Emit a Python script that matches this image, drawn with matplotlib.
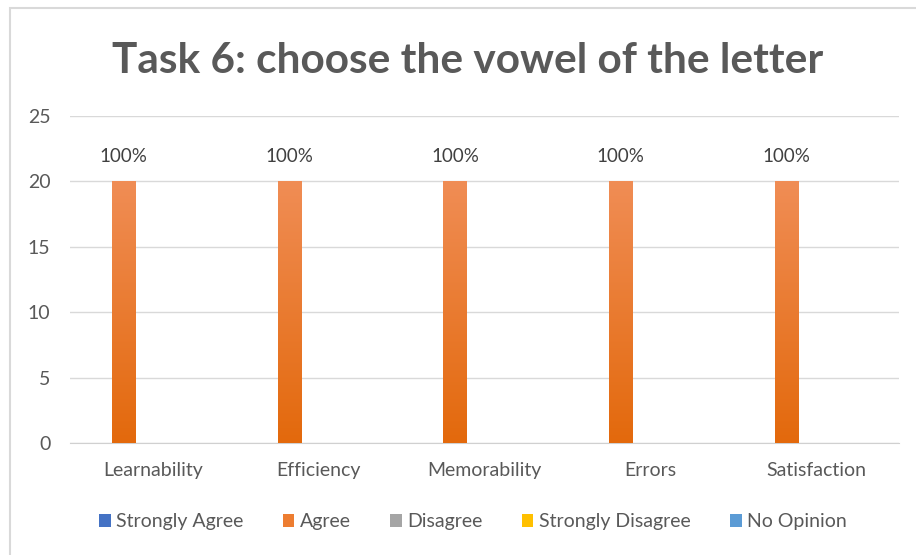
import numpy as np
import matplotlib
matplotlib.use('Agg')
import matplotlib.pyplot as plt
from matplotlib.patches import Rectangle
from matplotlib.colors import LinearSegmentedColormap

# data
categories = ['Learnability', 'Efficiency', 'Memorability', 'Errors', 'Satisfaction']
series = ['Strongly Agree', 'Agree', 'Disagree', 'Strongly Disagree', 'No Opinion']
values = {
    'Strongly Agree':    [0, 0, 0, 0, 0],
    'Agree':             [20, 20, 20, 20, 20],
    'Disagree':          [0, 0, 0, 0, 0],
    'Strongly Disagree': [0, 0, 0, 0, 0],
    'No Opinion':        [0, 0, 0, 0, 0],
}
bar_labels = {'Agree': ['100%', '100%', '100%', '100%', '100%']}
colors = ['#4472C4', '#ED7D31', '#A5A5A5', '#FFC000', '#5B9BD5']

plt.rcParams['font.family'] = ['Lato', 'DejaVu Sans']
text_gray = '#595959'

fig = plt.figure(figsize=(9.16, 5.55), dpi=100)
ax = fig.add_axes([70/916, 1-443/555, 829/916, (443-116)/555])

x = np.arange(len(categories))
step = 0.178
width = 0.139
offsets = (np.arange(len(series)) - 2) * step

for i, name in enumerate(series):
    bars = ax.bar(x + offsets[i], values[name], width, color=colors[i], label=name, zorder=3)
    # excel-like vertical gradient on the bars
    base = colors[i]
    cmap = LinearSegmentedColormap.from_list('g', ['#E3690C', '#F08D55'] if name == 'Agree' else [base, base])
    for b in bars:
        h = b.get_height()
        if h <= 0:
            continue
        grad = np.linspace(0, 1, 256).reshape(-1, 1)
        im = ax.imshow(grad, cmap=cmap, aspect='auto', origin='lower',
                       extent=[b.get_x(), b.get_x() + b.get_width(), 0, h], zorder=4)
        im.set_clip_path(b)
    if name in bar_labels:
        for b, lab in zip(bars, bar_labels[name]):
            ax.text(b.get_x() + b.get_width()/2, b.get_height() + 1.25, lab,
                    ha='center', va='bottom', fontsize=13.5, color='#404040', zorder=5)

ax.set_xlim(-0.5, len(categories) - 0.5)
ax.set_ylim(0, 25)
ax.set_yticks([0, 5, 10, 15, 20, 25])
ax.set_xticks(x)
ax.set_xticklabels(categories)
ax.yaxis.grid(True, color='#D9D9D9', linewidth=1, zorder=0)
ax.set_axisbelow(True)
for s in ['top', 'right', 'left']:
    ax.spines[s].set_visible(False)
ax.spines['bottom'].set_color('#D0D0D0')
ax.tick_params(axis='both', length=0, labelsize=14, colors=text_gray)
ax.tick_params(axis='y', pad=14)
ax.tick_params(axis='x', pad=14)

fig.text(468/916, 1-61/555, 'Task 6: choose the vowel of the letter', ha='center', va='center',
         fontsize=30.5, fontweight='bold', color=text_gray)

handles, labels = ax.get_legend_handles_labels()
fig.legend(handles, labels, loc='center', bbox_to_anchor=(473/916, 1-522/555), ncol=5,
           frameon=False, fontsize=14, handlelength=0.6, handleheight=0.6,
           handletextpad=0.3, columnspacing=2.0, labelcolor=text_gray)

# chart frame
fig.patches.append(Rectangle((10/916, -0.05), 1.1, 1.05 - 8/555, transform=fig.transFigure,
                             fill=False, edgecolor='#D9D9D9', linewidth=1.5))

fig.savefig('out.png', dpi=100, facecolor='white')
